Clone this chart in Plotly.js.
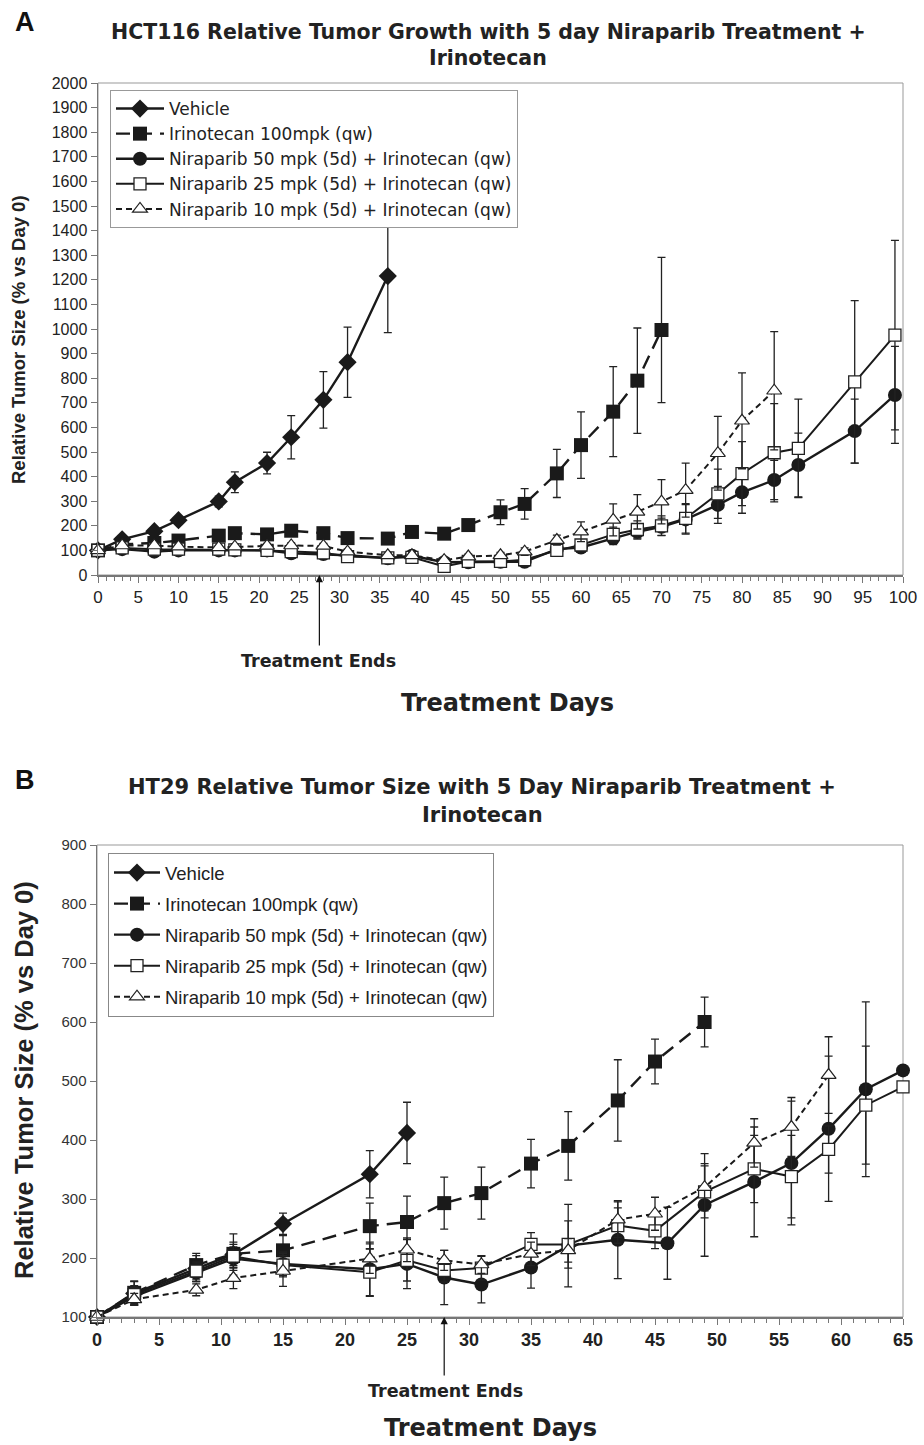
<!DOCTYPE html>
<html>
<head>
<meta charset="utf-8">
<script src="https://cdn.plot.ly/plotly-3.0.1.min.js"></script>
<style>html,body{margin:0;padding:0;background:#fff;}#chart{width:924px;height:1445px;}</style>
</head>
<body>
<div id="chart"></div>
<script>
// ---------- Panel A data (HCT116) ----------
const seriesNames = ["Vehicle", "Irinotecan 100mpk (qw)", "Niraparib 50 mpk (5d) + Irinotecan (qw)", "Niraparib 25 mpk (5d) + Irinotecan (qw)", "Niraparib 10 mpk (5d) + Irinotecan (qw)"];

const A_vehDays = [0, 3, 7, 10, 15, 17, 21, 24, 28, 31, 36];
const A_vehVals = [100, 145, 178, 223, 299, 377, 455, 560, 712, 865, 1215];
const A_vehErr  = [0, 12, 15, 12, 22, 42, 44, 88, 115, 143, 230];

const A_iriDays = [0, 3, 7, 10, 15, 17, 21, 24, 28, 31, 36, 39, 43, 46, 50, 53, 57, 60, 64, 67, 70];
const A_iriVals = [100, 125, 130, 140, 160, 170, 165, 180, 170, 150, 148, 175, 168, 203, 255, 289, 413, 528, 664, 790, 996];
const A_iriErr  = [0, 10, 10, 10, 12, 15, 12, 12, 12, 12, 10, 12, 12, 20, 50, 62, 98, 135, 183, 214, 295];

const A_n50Days = [0, 3, 7, 10, 15, 17, 21, 24, 28, 31, 36, 39, 43, 46, 50, 53, 57, 60, 64, 67, 70, 73, 77, 80, 84, 87, 94, 99];
const A_n50Vals = [100, 105, 95, 100, 100, 100, 100, 88, 85, 80, 68, 78, 52, 52, 54, 54, 105, 112, 149, 176, 196, 226, 285, 336, 386, 447, 585, 732];
const A_n50Err  = [0, 8, 8, 8, 8, 8, 8, 8, 8, 8, 8, 8, 8, 8, 10, 10, 15, 15, 25, 30, 35, 60, 75, 85, 80, 130, 130, 197];

const A_n25Days = [0, 3, 7, 10, 15, 17, 21, 24, 28, 31, 36, 39, 43, 46, 50, 53, 57, 60, 64, 67, 70, 73, 77, 80, 84, 87, 94, 99];
const A_n25Vals = [100, 110, 105, 105, 105, 102, 100, 95, 90, 75, 70, 72, 35, 55, 55, 62, 100, 122, 165, 185, 200, 230, 330, 412, 497, 515, 785, 975];
const A_n25Err  = [0, 8, 8, 8, 8, 8, 8, 8, 8, 8, 8, 8, 8, 8, 10, 10, 15, 20, 30, 35, 40, 60, 100, 130, 200, 200, 330, 385];

const A_n10Days = [0, 3, 7, 10, 15, 17, 21, 24, 28, 31, 36, 39, 43, 46, 50, 53, 57, 60, 64, 67, 70, 73, 77, 80, 84];
const A_n10Vals = [100, 120, 120, 115, 112, 115, 118, 120, 118, 95, 80, 80, 60, 75, 80, 95, 142, 176, 224, 257, 298, 345, 495, 627, 749];
const A_n10Err  = [0, 8, 8, 8, 8, 10, 10, 10, 10, 10, 10, 10, 10, 10, 12, 15, 20, 40, 65, 70, 90, 110, 150, 195, 240];

// ---------- Panel B data (HT29) ----------
const B_vehDays = [0, 3, 8, 11, 15, 22, 25];
const B_vehVals = [100, 140, 182, 206, 258, 342, 412];
const B_vehErr  = [0, 20, 22, 35, 18, 40, 52];

const B_iriDays = [0, 3, 8, 11, 15, 22, 25, 28, 31, 35, 38, 42, 45, 49];
const B_iriVals = [100, 141, 188, 207, 213, 254, 261, 293, 310, 360, 390, 467, 533, 600];
const B_iriErr  = [0, 20, 20, 20, 25, 39, 44, 44, 44, 41, 58, 69, 38, 42];

const B_n50Days = [0, 3, 8, 11, 15, 22, 25, 28, 31, 35, 38, 42, 46, 49, 53, 56, 59, 62, 65];
const B_n50Vals = [100, 135, 175, 199, 190, 181, 190, 167, 155, 184, 221, 231, 225, 290, 329, 361, 419, 486, 518];
const B_n50Err  = [0, 15, 15, 20, 20, 46, 42, 46, 31, 35, 70, 66, 61, 87, 93, 105, 123, 148, 0];

const B_n25Days = [0, 3, 8, 11, 15, 22, 25, 28, 31, 35, 38, 42, 45, 49, 53, 56, 59, 62, 65];
const B_n25Vals = [100, 138, 178, 203, 188, 176, 196, 179, 183, 223, 223, 255, 246, 312, 351, 338, 384, 459, 490];
const B_n25Err  = [0, 15, 15, 20, 20, 40, 35, 20, 20, 20, 40, 30, 30, 44, 57, 70, 40, 100, 0];

const B_n10Days = [0, 3, 8, 11, 15, 22, 25, 28, 31, 35, 38, 42, 45, 49, 53, 56, 59];
const B_n10Vals = [100, 130, 146, 166, 178, 199, 214, 196, 189, 207, 213, 265, 275, 320, 395, 422, 510];
const B_n10Err  = [0, 10, 10, 18, 26, 25, 20, 17, 15, 20, 20, 30, 28, 40, 41, 50, 65];

// ---------- styling ----------
const FONT = "Liberation Sans, Arial, Helvetica, sans-serif";
const TFONT = "DejaVu Sans, Liberation Sans, Arial, sans-serif";
const INK = "#1a1a1a";
const W = 924, H = 1445;
const px = x => x / W;
const py = y => 1 - y / H;

const styles = [
  {marker: {symbol: "diamond", size: 14, color: INK}, line: {color: INK, width: 2.4, dash: "solid"}},
  {marker: {symbol: "square", size: 14, color: INK}, line: {color: INK, width: 2.4, dash: "14px,8px"}},
  {marker: {symbol: "circle", size: 14, color: INK}, line: {color: INK, width: 2.4, dash: "solid"}},
  {marker: {symbol: "square", size: 12, color: "#fff", line: {color: "#222", width: 1.3}}, line: {color: INK, width: 2.0, dash: "solid"}},
  {marker: {symbol: "triangle-up", size: 13, color: "#fff", line: {color: "#222", width: 1.2}}, line: {color: INK, width: 2.0, dash: "6px,4px"}}
];

function mk(i, xs, ys, err, xa, ya, leg) {
  return {
    type: "scatter", mode: "lines+markers", name: seriesNames[i],
    x: xs, y: ys, xaxis: xa, yaxis: ya, legend: leg, legendgroup: leg + i,
    marker: styles[i].marker, line: styles[i].line, cliponaxis: false,
    error_y: {type: "data", array: err, visible: true, color: "#222", thickness: 1.3, width: 4}
  };
}

const data = [
  mk(0, A_vehDays, A_vehVals, A_vehErr, "x", "y", "legend"),
  mk(1, A_iriDays, A_iriVals, A_iriErr, "x", "y", "legend"),
  mk(2, A_n50Days, A_n50Vals, A_n50Err, "x", "y", "legend"),
  mk(3, A_n25Days, A_n25Vals, A_n25Err, "x", "y", "legend"),
  mk(4, A_n10Days, A_n10Vals, A_n10Err, "x", "y", "legend"),
  mk(0, B_vehDays, B_vehVals, B_vehErr, "x2", "y2", "legend2"),
  mk(1, B_iriDays, B_iriVals, B_iriErr, "x2", "y2", "legend2"),
  mk(2, B_n50Days, B_n50Vals, B_n50Err, "x2", "y2", "legend2"),
  mk(3, B_n25Days, B_n25Vals, B_n25Err, "x2", "y2", "legend2"),
  mk(4, B_n10Days, B_n10Vals, B_n10Err, "x2", "y2", "legend2")
];

const axisCommon = {
  showgrid: false, zeroline: false, showline: true, linecolor: "#777", linewidth: 1.5,
  ticks: "outside", ticklen: 6, tickwidth: 1, tickcolor: "#777"
};

function txt(text, x, y, size, opts) {
  return Object.assign({text: text, xref: "paper", yref: "paper", x: px(x), y: py(y),
    xanchor: "center", yanchor: "middle", showarrow: false,
    font: {family: TFONT, size: size, color: "#222"}}, opts || {});
}

const layout = {
  width: W, height: H,
  margin: {l: 0, r: 0, t: 0, b: 0},
  paper_bgcolor: "#fff", plot_bgcolor: "#fff",
  font: {family: FONT, color: INK},
  showlegend: true,
  xaxis: Object.assign({}, axisCommon, {
    domain: [px(98), px(903)], range: [0, 100], tick0: 0, dtick: 5, anchor: "y",
    minor: {dtick: 1, ticks: "outside", ticklen: 4, tickcolor: "#777"},
    tickfont: {family: FONT, size: 17, color: "#222"}
  }),
  yaxis: Object.assign({}, axisCommon, {
    domain: [py(575), py(83)], range: [0, 2000], dtick: 100, anchor: "x",
    tickfont: {family: FONT, size: 16, color: "#222"}
  }),
  xaxis2: Object.assign({}, axisCommon, {
    domain: [px(97), px(903)], range: [0, 65], tick0: 0, dtick: 5, anchor: "y2",
    minor: {dtick: 1, ticks: "outside", ticklen: 4, tickcolor: "#777"},
    tickfont: {family: FONT, size: 18, color: "#222", weight: "bold"}
  }),
  yaxis2: Object.assign({}, axisCommon, {
    domain: [py(1317), py(845)], range: [100, 900], dtick: 100, anchor: "x2",
    tickfont: {family: FONT, size: 15, color: "#333"}
  }),
  legend: {
    x: px(110), y: py(90), xanchor: "left", yanchor: "top",
    bordercolor: "#999", borderwidth: 1, bgcolor: "#fff", itemwidth: 48,
    font: {family: TFONT, size: 17, color: "#222"}, traceorder: "normal"
  },
  legend2: {
    x: px(108), y: py(853), xanchor: "left", yanchor: "top",
    bordercolor: "#888", borderwidth: 1, bgcolor: "#fff", itemwidth: 46,
    font: {family: FONT, size: 18.5, color: "#222"}, tracegroupgap: 4, traceorder: "grouped"
  },
  shapes: [
    {type: "rect", xref: "x domain", yref: "y domain", x0: 0, x1: 1, y0: 0, y1: 1, line: {color: "#999", width: 1}, layer: "below"},
    {type: "rect", xref: "x2 domain", yref: "y2 domain", x0: 0, x1: 1, y0: 0, y1: 1, line: {color: "#999", width: 1}, layer: "below"}
  ],
  annotations: [
    txt("<b>A</b>", 25, 22, 26, {font: {family: FONT, size: 27, color: "#111"}}),
    txt("<b>HCT116 Relative Tumor Growth with 5 day Niraparib Treatment +</b>", 488, 32, 20.5),
    txt("<b>Irinotecan</b>", 488, 58, 20.5),
    txt("<b>Relative Tumor Size (% vs Day 0)</b>", 18, 340, 18.5, {textangle: -90, font: {family: FONT, size: 18.5, color: "#222"}}),
    txt("<b>Treatment Days</b>", 507, 703, 24),
    txt("<b>Treatment Ends</b>", 318, 661, 17.5),
    {text: "", xref: "x", yref: "y", x: 27.5, y: 0, showarrow: true, ax: 0, ay: 72, axref: "pixel", ayref: "pixel", arrowhead: 2, arrowsize: 1.2, arrowwidth: 1.2, arrowcolor: "#111"},

    txt("<b>B</b>", 25, 780, 26, {font: {family: FONT, size: 27, color: "#111"}}),
    txt("<b>HT29 Relative Tumor Size with 5 Day Niraparib Treatment +</b>", 482, 787, 21),
    txt("<b>Irinotecan</b>", 482, 815, 21),
    txt("<b>Relative Tumor Size (% vs Day 0)</b>", 24, 1080, 25.5, {textangle: -90, font: {family: FONT, size: 25.5, color: "#222"}}),
    txt("<b>Treatment Days</b>", 490, 1428, 24),
    txt("<b>Treatment Ends</b>", 445, 1391, 17.5),
    {text: "", xref: "x2", yref: "y2", x: 28, y: 100, showarrow: true, ax: 0, ay: 60, axref: "pixel", ayref: "pixel", arrowhead: 2, arrowsize: 1.2, arrowwidth: 1.2, arrowcolor: "#111"}
  ]
};

Plotly.newPlot("chart", data, layout, {displayModeBar: false, staticPlot: true});
</script>
</body>
</html>
